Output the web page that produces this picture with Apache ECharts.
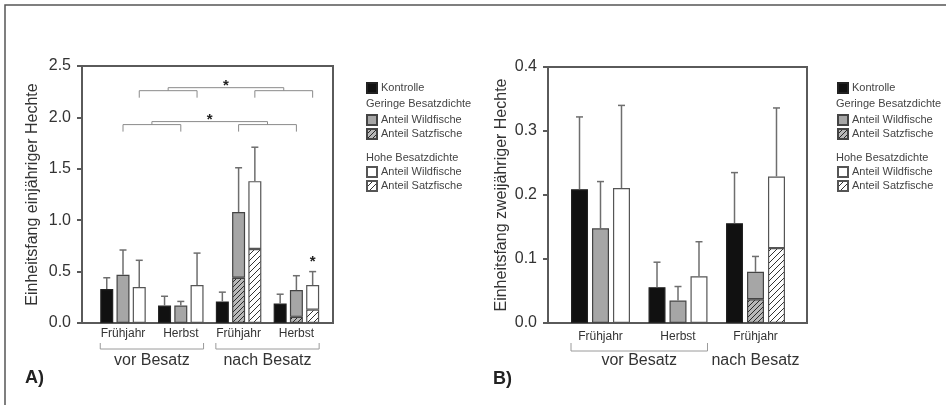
<!DOCTYPE html>
<html>
<head>
<meta charset="utf-8">
<script src="https://cdn.jsdelivr.net/npm/echarts@6/dist/echarts.min.js"></script>
<style>
  html, body { margin: 0; padding: 0; background: #fff; }
  #chart { width: 946px; height: 405px; }
</style>
</head>
<body>
<div id="chart"></div>
<script>
// A) einjährige Hechte
var catsA = ['Frühjahr', 'Herbst', 'Frühjahr', 'Herbst'];
var kontrolleA = [0.33, 0.17, 0.21, 0.19];
var geringWildA = [0.47, 0.17, 0.64, 0.26];
var geringSatzA = [null, null, 0.44, 0.06];
var hochWildA = [0.35, 0.37, 0.66, 0.24];
var hochSatzA = [null, null, 0.72, 0.13];
// oberes Ende der Fehlerbalken
var kontrolleErrA = [0.44, 0.26, 0.30, 0.28];
var geringErrA = [0.71, 0.21, 1.51, 0.46];
var hochErrA = [0.61, 0.68, 1.71, 0.50];
var yTicksA = [0, 0.5, 1.0, 1.5, 2.0, 2.5];
var phasesA = [
  { name: 'vor Besatz', from: 0, to: 1, bracket: true },
  { name: 'nach Besatz', from: 2, to: 3, bracket: true }
];
// Signifikanzklammern: slot 1 = geringe, slot 2 = hohe Besatzdichte
var sigA = [
  { pairs: [[0, 1], [2, 3]], slot: 1, level: 1.93 },
  { pairs: [[0, 1], [2, 3]], slot: 2, level: 2.26 }
];
var starsA = [{ cat: 3, slot: 2 }];

// B) zweijährige Hechte
var catsB = ['Frühjahr', 'Herbst', 'Frühjahr'];
var kontrolleB = [0.209, 0.056, 0.156];
var geringWildB = [0.148, 0.035, 0.043];
var geringSatzB = [null, null, 0.037];
var hochWildB = [0.211, 0.073, 0.112];
var hochSatzB = [null, null, 0.117];
var kontrolleErrB = [0.322, 0.095, 0.235];
var geringErrB = [0.221, 0.057, 0.104];
var hochErrB = [0.340, 0.127, 0.336];
var yTicksB = [0, 0.1, 0.2, 0.3, 0.4];
var phasesB = [
  { name: 'vor Besatz', from: 0, to: 1, bracket: true },
  { name: 'nach Besatz', from: 2, to: 2, bracket: false }
];

var legendLabels = {
  'Kontrolle': 'Kontrolle',
  'Geringe Wild': 'Anteil Wildfische',
  'Geringe Satz': 'Anteil Satzfische',
  'Hohe Wild': 'Anteil Wildfische',
  'Hohe Satz': 'Anteil Satzfische'
};

var FONT = '"Liberation Sans", Arial, sans-serif';
var AXIS = '#5a5a5a';
var TEXT = '#333';

function hatch(bg, fg, size, lw) {
  var c = document.createElement('canvas');
  c.width = size; c.height = size;
  var ctx = c.getContext('2d');
  ctx.fillStyle = bg;
  ctx.fillRect(0, 0, size, size);
  ctx.strokeStyle = fg;
  ctx.lineWidth = lw;
  ctx.beginPath();
  ctx.moveTo(0, size); ctx.lineTo(size, 0);
  ctx.moveTo(-1, 1); ctx.lineTo(1, -1);
  ctx.moveTo(size - 1, size + 1); ctx.lineTo(size + 1, size - 1);
  ctx.stroke();
  return { image: c, repeat: 'repeat' };
}

var styles = {
  'Kontrolle': { color: '#111', borderColor: '#222' },
  'Geringe Satz': { color: hatch('#b8b8b8', '#2a2a2a', 5, 1), borderColor: '#444' },
  'Geringe Wild': { color: '#a6a6a6', borderColor: '#444' },
  'Hohe Satz': { color: hatch('#ffffff', '#333', 6, 1), borderColor: '#555' },
  'Hohe Wild': { color: '#ffffff', borderColor: '#555' }
};

function sum(a, b) { return (a || 0) + (b || 0); }

function panel(p, ax) {
  // ax: index of frame grid/axes, ax + 1: bars grid/axes
  var bi = ax + 1;
  var pitch = p.barWidth * (1 + p.gap);
  var ticks = p.ticks;
  var yMin = ticks[0], yMax = ticks[ticks.length - 1], yStep = ticks[1] - ticks[0];

  var grids = [
    { left: p.frame[0], right: p.frame[1], top: p.top, bottom: p.bottom, show: true,
      borderColor: AXIS, borderWidth: 2, backgroundColor: 'transparent' },
    { left: p.bars[0], right: p.bars[1], top: p.top, bottom: p.bottom }
  ];
  var xAxes = [
    { type: 'value', gridIndex: ax, show: false },
    { type: 'category', gridIndex: bi, data: p.cats,
      axisLine: { show: false }, axisTick: { show: false },
      axisLabel: { interval: 0, fontSize: 12, color: TEXT, fontFamily: FONT, margin: p.catMargin } }
  ];
  var yAxes = [
    { type: 'value', gridIndex: ax, min: yMin, max: yMax, interval: yStep,
      name: p.yName, nameLocation: 'middle', nameGap: p.nameGap,
      nameTextStyle: { fontSize: 16, color: TEXT, fontFamily: FONT },
      axisLine: { show: true, lineStyle: { color: AXIS, width: 2 } },
      axisTick: { show: true, length: 5, lineStyle: { color: AXIS, width: 2 } },
      axisLabel: { fontSize: 16, color: TEXT, fontFamily: FONT, margin: 11,
        formatter: function (v) { return v.toFixed(1); } },
      splitLine: { show: false } },
    { type: 'value', gridIndex: bi, min: yMin, max: yMax, interval: yStep, show: false }
  ];

  function bar(name, data, stack) {
    return {
      name: name, type: 'bar', xAxisIndex: bi, yAxisIndex: bi,
      stack: stack + bi, data: data, barWidth: p.barWidth, barGap: (p.gap * 100) + '%',
      itemStyle: { color: styles[name].color, borderColor: styles[name].borderColor, borderWidth: 1.2 },
      emphasis: { disabled: true }, silent: true
    };
  }

  var series = [
    bar('Kontrolle', p.kontrolle, 'k'),
    bar('Geringe Satz', p.geringSatz, 'g'),
    bar('Geringe Wild', p.geringWild, 'g'),
    bar('Hohe Satz', p.hochSatz, 'h'),
    bar('Hohe Wild', p.hochWild, 'h')
  ];

  // Fehlerbalken: [Kategorie, Slot, Balkenende, Fehlerende]
  var errData = [];
  p.cats.forEach(function (c, i) {
    errData.push([i, 0, p.kontrolle[i], p.kontrolleErr[i]]);
    errData.push([i, 1, sum(p.geringWild[i], p.geringSatz[i]), p.geringErr[i]]);
    errData.push([i, 2, sum(p.hochWild[i], p.hochSatz[i]), p.hochErr[i]]);
  });
  series.push({
    type: 'custom', xAxisIndex: bi, yAxisIndex: bi, silent: true, z: 3,
    encode: { x: 0, y: 3 }, data: errData,
    renderItem: function (params, api) {
      var c = api.value(0), s = api.value(1);
      var p0 = api.coord([c, api.value(2)]);
      var p1 = api.coord([c, api.value(3)]);
      var x = p0[0] + (s - 1) * pitch;
      var st = { stroke: '#6e6e6e', lineWidth: 1.5 };
      return { type: 'group', children: [
        { type: 'line', shape: { x1: x, y1: p0[1], x2: x, y2: p1[1] }, style: st },
        { type: 'line', shape: { x1: x - 3.5, y1: p1[1], x2: x + 3.5, y2: p1[1] }, style: st }
      ] };
    }
  });

  // vor / nach Besatz unter der Achse
  series.push({
    type: 'custom', xAxisIndex: bi, yAxisIndex: bi, silent: true,
    encode: { x: 0, y: 1 },
    data: p.phases.map(function (g) { return [g.from, yMin]; }),
    renderItem: function (params, api) {
      var g = p.phases[params.dataIndex];
      var a = api.coord([g.from, yMin]);
      var b = api.coord([g.to, yMin]);
      var x1 = a[0] - pitch - p.barWidth / 2;
      var x2 = b[0] + pitch + p.barWidth / 2;
      var y0 = a[1];
      var children = [{
        type: 'text', x: (x1 + x2) / 2, y: y0 + p.phaseText,
        style: { text: g.name, fontSize: 16, fill: TEXT, fontFamily: FONT,
          textAlign: 'center', textVerticalAlign: 'middle' }
      }];
      if (g.bracket) {
        children.push({ type: 'polyline', shape: { points: [
          [x1, y0 + 20], [x1, y0 + p.phaseLine], [x2, y0 + p.phaseLine], [x2, y0 + 20]] },
          style: { stroke: '#9a9a9a', lineWidth: 1, fill: null } });
      }
      return { type: 'group', children: children };
    }
  });

  if (p.sig) {
    series.push({
      type: 'custom', xAxisIndex: bi, yAxisIndex: bi, silent: true,
      encode: { x: 0, y: 1 },
      data: p.sig.map(function (s) { return [s.pairs[0][0], s.level]; }),
      renderItem: function (params, api) {
        var s = p.sig[params.dataIndex];
        var off = (s.slot - 1) * pitch;
        var st = { stroke: '#8a8a8a', lineWidth: 1, fill: null };
        var children = [];
        var mids = [];
        s.pairs.forEach(function (pr) {
          var a = api.coord([pr[0], s.level]);
          var b = api.coord([pr[1], s.level]);
          var xa = a[0] + off, xb = b[0] + off, y = a[1];
          children.push({ type: 'polyline', shape: { points: [
            [xa, y + 7], [xa, y], [xb, y], [xb, y + 7]] }, style: st });
          mids.push([(xa + xb) / 2, y]);
        });
        var yc = mids[0][1] - 3;
        children.push({ type: 'polyline', shape: { points: [
          [mids[0][0], mids[0][1]], [mids[0][0], yc], [mids[1][0], yc], [mids[1][0], mids[1][1]]] },
          style: st });
        children.push({ type: 'text', x: (mids[0][0] + mids[1][0]) / 2, y: yc - 2,
          style: { text: '*', fontSize: 15, fontWeight: 'bold', fill: '#222', fontFamily: FONT,
            textAlign: 'center', textVerticalAlign: 'middle' } });
        return { type: 'group', children: children };
      }
    });
  }

  if (p.stars) {
    series.push({
      type: 'custom', xAxisIndex: bi, yAxisIndex: bi, silent: true,
      encode: { x: 0, y: 1 },
      data: p.stars.map(function (s) { return [s.cat, p.hochErr[s.cat]]; }),
      renderItem: function (params, api) {
        var s = p.stars[params.dataIndex];
        var pt = api.coord([s.cat, api.value(1)]);
        return { type: 'text', x: pt[0] + (s.slot - 1) * pitch, y: pt[1] - 10,
          style: { text: '*', fontSize: 15, fontWeight: 'bold', fill: '#222', fontFamily: FONT,
            textAlign: 'center', textVerticalAlign: 'middle' } };
      }
    });
  }

  return { grids: grids, xAxes: xAxes, yAxes: yAxes, series: series };
}

var A = panel({
  cats: catsA, kontrolle: kontrolleA, geringWild: geringWildA, geringSatz: geringSatzA,
  hochWild: hochWildA, hochSatz: hochSatzA,
  kontrolleErr: kontrolleErrA, geringErr: geringErrA, hochErr: hochErrA,
  ticks: yTicksA, phases: phasesA, sig: sigA, stars: starsA,
  yName: 'Einheitsfang einjähriger Hechte', nameGap: 41,
  frame: [82, 613], bars: [94.1, 620.7], top: 66, bottom: 82,
  barWidth: 13, gap: 0.25, catMargin: 5, phaseLine: 26, phaseText: 38
}, 0);

var B = panel({
  cats: catsB, kontrolle: kontrolleB, geringWild: geringWildB, geringSatz: geringSatzB,
  hochWild: hochWildB, hochSatz: hochSatzB,
  kontrolleErr: kontrolleErrB, geringErr: geringErrB, hochErr: hochErrB,
  ticks: yTicksB, phases: phasesB,
  yName: 'Einheitsfang zweijähriger Hechte', nameGap: 38,
  frame: [548, 139], bars: [561.75, 151.75], top: 67, bottom: 82,
  barWidth: 17, gap: 0.235, catMargin: 8, phaseLine: 28, phaseText: 38
}, 2);

function legends(left) {
  var base = {
    orient: 'vertical', left: left, itemWidth: 10, itemHeight: 10, itemGap: 2,
    selectedMode: false, icon: 'rect', padding: 0,
    textStyle: { fontSize: 11, color: '#444', fontFamily: FONT, lineHeight: 12, padding: [0, 0, 0, -1] },
    formatter: function (n) { return legendLabels[n]; }
  };
  return [
    Object.assign({}, base, { data: ['Kontrolle'], top: 82 }),
    Object.assign({}, base, { data: ['Geringe Wild', 'Geringe Satz'], top: 114 }),
    Object.assign({}, base, { data: ['Hohe Wild', 'Hohe Satz'], top: 166 })
  ];
}

function headers(left) {
  var st = { fontSize: 11, fill: '#444', fontFamily: FONT };
  return [
    { type: 'text', left: left, top: 98, style: Object.assign({ text: 'Geringe Besatzdichte' }, st) },
    { type: 'text', left: left, top: 152, style: Object.assign({ text: 'Hohe Besatzdichte' }, st) }
  ];
}

var chart = echarts.init(document.getElementById('chart'));
chart.setOption({
  animation: false,
  backgroundColor: '#fff',
  grid: A.grids.concat(B.grids),
  xAxis: A.xAxes.concat(B.xAxes),
  yAxis: A.yAxes.concat(B.yAxes),
  legend: legends(366).concat(legends(837)),
  series: A.series.concat(B.series),
  graphic: [
    { type: 'polyline', shape: { points: [[5, 405], [5, 5], [946, 5]] },
      style: { stroke: '#555', lineWidth: 1.5, fill: null } },
    { type: 'text', left: 25, top: 369,
      style: { text: 'A)', fontSize: 18, fontWeight: 'bold', fill: '#222', fontFamily: FONT } },
    { type: 'text', left: 493, top: 370,
      style: { text: 'B)', fontSize: 18, fontWeight: 'bold', fill: '#222', fontFamily: FONT } }
  ].concat(headers(366)).concat(headers(836))
});
</script>
</body>
</html>
